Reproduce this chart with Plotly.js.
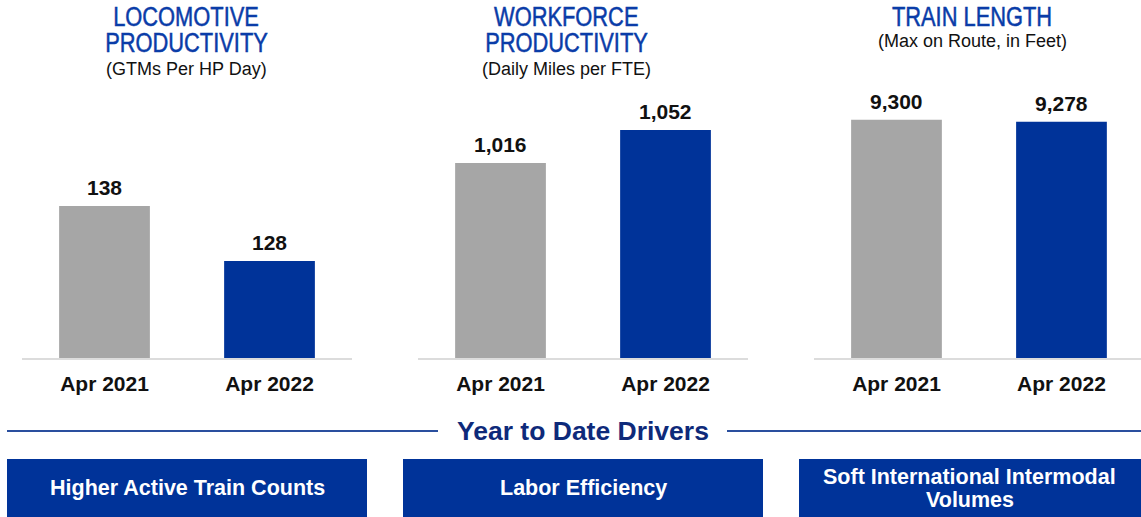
<!DOCTYPE html>
<html>
<head>
<meta charset="utf-8">
<script src="https://cdn.plot.ly/plotly-3.0.1.min.js"></script>
<style>
  html, body { margin: 0; padding: 0; background: #ffffff; }
  #chart { width: 1141px; height: 517px; }
</style>
</head>
<body>
<div id="chart"></div>
<script>
// ---- data ----
const periods = ["Apr 2021", "Apr 2022"];
const locomotiveProductivity = [138, 128];
const workforceProductivity = [1016, 1052];
const trainLength = [9300, 9278];
const valueLabelsLoco = ["138", "128"];
const valueLabelsWork = ["1,016", "1,052"];
const valueLabelsTrain = ["9,300", "9,278"];
const panelTitles = [["LOCOMOTIVE", "PRODUCTIVITY"], ["WORKFORCE", "PRODUCTIVITY"], ["TRAIN LENGTH"]];
const panelSubtitles = ["(GTMs Per HP Day)", "(Daily Miles per FTE)", "(Max on Route, in Feet)"];
const driversHeading = "Year to Date Drivers";
const drivers = [["Higher Active Train Counts"], ["Labor Efficiency"], ["Soft International Intermodal", "Volumes"]];

// ---- style ----
const W = 1141, H = 517;
const GRAY = "#a6a6a6", BLUE = "#003399", TITLE_BLUE = "#0a3ca8", NAVY = "#0e2a7a";
const SANS = "'Liberation Sans', Arial, sans-serif";
const px = x => x / W;
const py = y => 1 - y / H;

function barTrace(values, xa, ya) {
  return {
    type: "bar", x: periods, y: values, xaxis: xa, yaxis: ya,
    marker: { color: [GRAY, BLUE] }, width: 0.55,
    hoverinfo: "skip", showlegend: false
  };
}
const data = [
  barTrace(locomotiveProductivity, "x", "y"),
  barTrace(workforceProductivity, "x2", "y2"),
  barTrace(trainLength, "x3", "y3")
];

const yDom = [py(358), py(80)];
function xAxis(d0, d1, r1, anchor) {
  return {
    domain: [px(d0), px(d1)], anchor: anchor, type: "category",
    range: [-0.5, r1], showline: true, linecolor: "#dcdcdc", linewidth: 2,
    showgrid: false, zeroline: false, ticks: "", ticklabelstandoff: 6,
    tickfont: { family: SANS, size: 21, color: "#111111", weight: "bold" },
    fixedrange: true
  };
}
function yAxis(r0, r1, anchor) {
  return { domain: yDom, anchor: anchor, range: [r0, r1], visible: false, showgrid: false, zeroline: false, fixedrange: true };
}

const annotations = [];
// value labels above bars (data coordinates)
[[locomotiveProductivity, valueLabelsLoco, "x", "y"],
 [workforceProductivity, valueLabelsWork, "x2", "y2"],
 [trainLength, valueLabelsTrain, "x3", "y3"]].forEach(([vals, labs, xr, yr]) => {
  vals.forEach((v, k) => annotations.push({ xref: xr, yref: yr, x: periods[k], y: v,
    xanchor: "center", yanchor: "bottom", yshift: 5, showarrow: false, text: labs[k],
    font: { family: SANS, size: 21, color: "#111111", weight: "bold" } }));
});

const titleIdx = [];
const titleCenters = [186, 566, 972];
panelTitles.forEach((lines, i) => {
  lines.forEach((t, j) => {
    titleIdx.push(annotations.length);
    annotations.push({ xref: "paper", yref: "paper", x: px(titleCenters[i]), y: py(17 + 26 * j),
      xanchor: "center", yanchor: "middle", showarrow: false, text: t,
      font: { family: SANS, size: 27, color: TITLE_BLUE } });
  });
  const sy = lines.length === 2 ? 69 : 41;
  annotations.push({ xref: "paper", yref: "paper", x: px(titleCenters[i]), y: py(sy),
    xanchor: "center", yanchor: "middle", showarrow: false, text: panelSubtitles[i],
    font: { family: SANS, size: 18, color: "#111111" } });
});
annotations.push({ xref: "paper", yref: "paper", x: px(583), y: py(431), xanchor: "center", yanchor: "middle",
  showarrow: false, text: driversHeading, font: { family: SANS, size: 26.5, color: NAVY, weight: "bold" } });
const boxes = [[7, 367], [403, 763], [799, 1141]];
drivers.forEach((lines, i) => {
  const n = lines.length;
  lines.forEach((t, j) => {
    annotations.push({ xref: "paper", yref: "paper", x: px((boxes[i][0] + boxes[i][1]) / 2),
      y: py(488 + (j - (n - 1) / 2) * 23),
      xanchor: "center", yanchor: "middle", showarrow: false, text: t,
      font: { family: SANS, size: 21.5, color: "#ffffff", weight: "bold" } });
  });
});

const shapes = [
  { type: "line", xref: "paper", yref: "paper", x0: px(7), x1: px(438), y0: py(431), y1: py(431), line: { color: "#2a4f9e", width: 2 } },
  { type: "line", xref: "paper", yref: "paper", x0: px(727), x1: 1, y0: py(431), y1: py(431), line: { color: "#2a4f9e", width: 2 } }
];
boxes.forEach(b => shapes.push({ type: "rect", xref: "paper", yref: "paper", x0: px(b[0]), x1: px(b[1]), y0: 0, y1: py(459),
  fillcolor: BLUE, line: { width: 0 }, layer: "below" }));

const layout = {
  width: W, height: H, margin: { l: 0, r: 0, t: 0, b: 0 },
  paper_bgcolor: "#ffffff", plot_bgcolor: "rgba(0,0,0,0)",
  bargap: 0.45, showlegend: false,
  xaxis: xAxis(22, 352, 1.5, "y"),
  xaxis2: xAxis(418, 748, 1.5, "y2"),
  xaxis3: xAxis(814, 1141, 1.482, "y3"),
  yaxis: yAxis(110.36, 160.9, "x"),
  yaxis2: yAxis(803.3, 1106.6, "x2"),
  yaxis3: yAxis(6679, 9737, "x3"),
  annotations: annotations, shapes: shapes
};
Plotly.newPlot("chart", data, layout, { displayModeBar: false, staticPlot: true }).then(gd => {
  // condensed look of the panel titles (narrow typeface not installed)
  gd.querySelectorAll("g.annotation").forEach(g => {
    const idx = +g.getAttribute("data-index");
    if (titleIdx.indexOf(idx) >= 0) {
      const t = g.querySelector("text.annotation-text");
      if (t) {
        t.style.transformBox = "fill-box";
        t.style.transformOrigin = "center";
        t.style.transform = "scaleX(0.81)";
        t.style.stroke = TITLE_BLUE;
        t.style.strokeWidth = "0.5px";
      }
    }
  });
});
</script>
</body>
</html>
